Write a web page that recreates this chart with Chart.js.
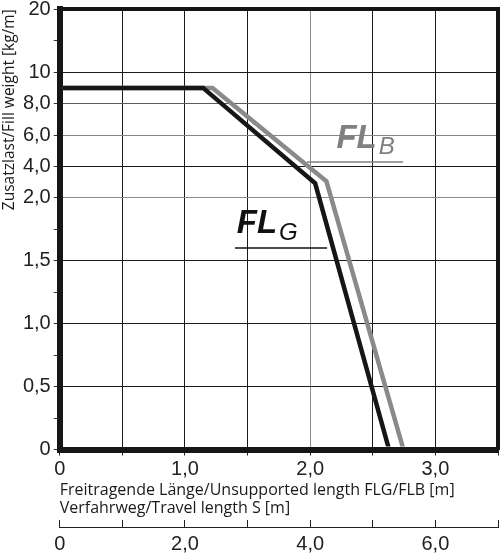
<!DOCTYPE html>
<html>
<head>
<meta charset="utf-8">
<script src="https://cdn.jsdelivr.net/npm/chart.js@4/dist/chart.umd.min.js"></script>
<style>
html,body{margin:0;padding:0;background:#fff;overflow:hidden}
#wrap{position:relative;width:500px;height:559px}
</style>
</head>
<body>
<div id="wrap"><canvas id="c" width="500" height="559"></canvas></div>
<script>
// ---- data ----
const seriesNames = ['FLG', 'FLB'];
const flgX = [0, 1.145, 2.04, 2.63];
const flgY = [9.0, 9.0, 2.93, 0];
const flbX = [0, 1.22, 2.13, 2.745];
const flbY = [9.0, 9.0, 3.06, 0];

// y axis (piecewise scale: 0..2 stretched, 2..10 compressed, 10..20)
const yBreakValues = [0, 2, 10, 20];
const yBreakUnits  = [0, 4, 6, 7];
const yTickValues = [0, 0.25, 0.5, 0.75, 1, 1.25, 1.5, 1.75, 2, 4, 6, 8, 10, 15, 20];
const yTickLabels = ['0', '', '0,5', '', '1,0', '', '1,5', '', '2,0', '4,0', '6,0', '8,0', '10', '', '20'];

// x axis: unsupported length (m)
const xTickValues = [0, 0.5, 1, 1.5, 2, 2.5, 3, 3.5];
const xTickLabels = ['0', '', '1,0', '', '2,0', '', '3,0', ''];

// second x axis: travel length S (m)
const sTickValues = [0, 1, 2, 3, 4, 5, 6, 7];
const sTickLabels = ['0', '', '2,0', '', '4,0', '', '6,0', ''];

const yTitle = 'Zusatzlast/Fill weight [kg/m]';
const xTitle = ['Freitragende Länge/Unsupported length FLG/FLB [m]', 'Verfahrweg/Travel length S [m]'];

// ---- piecewise linear scale ----
const UNIT_TOTAL = yBreakUnits[yBreakUnits.length - 1];
function toUnit(v) {
  for (let i = 1; i < yBreakValues.length; i++) {
    if (v <= yBreakValues[i] || i === yBreakValues.length - 1) {
      const a = yBreakValues[i - 1], b = yBreakValues[i];
      return yBreakUnits[i - 1] + (v - a) / (b - a) * (yBreakUnits[i] - yBreakUnits[i - 1]);
    }
  }
  return 0;
}
function fromUnit(u) {
  for (let i = 1; i < yBreakUnits.length; i++) {
    if (u <= yBreakUnits[i] || i === yBreakUnits.length - 1) {
      const a = yBreakUnits[i - 1], b = yBreakUnits[i];
      return yBreakValues[i - 1] + (u - a) / (b - a) * (yBreakValues[i] - yBreakValues[i - 1]);
    }
  }
  return 0;
}
const BaseLinear = Chart.LinearScale || Chart.registry.getScale('linear');
class SegmentScale extends BaseLinear {
  buildTicks() { return yTickValues.map(v => ({ value: v })); }
  getPixelForValue(v) { return this.getPixelForDecimal(toUnit(v) / UNIT_TOTAL); }
  getValueForPixel(p) { return fromUnit(this.getDecimalForPixel(p) * UNIT_TOTAL); }
}
SegmentScale.id = 'segment';
SegmentScale.defaults = BaseLinear.defaults;
Chart.register(SegmentScale);

// ---- styling helpers ----
const TICK_FONT = { family: '"Liberation Sans", Arial, sans-serif', size: 20 };
const TITLE_FONT = { family: '"Open Sans", "Noto Sans", sans-serif', size: 16, lineHeight: 1.16 };
const Y_GRID = { 0: '#111', 0.5: '#1a1a1a', 1: '#1a1a1a', 1.5: '#1a1a1a', 2: '#8c8c8c', 4: '#1a1a1a', 6: '#858585', 8: '#5c5c5c', 10: '#1a1a1a', 20: '#111' };
function yGridColor(ctx) {
  const v = ctx.tick ? ctx.tick.value : null;
  return (v !== null && v in Y_GRID) ? Y_GRID[v] : 'rgba(0,0,0,0)';
}
function xGridColor(ctx) {
  const v = ctx.tick ? ctx.tick.value : null;
  return v === 2 ? '#8c8c8c' : '#1a1a1a';
}
function noPad(s) { s.paddingLeft = 0; s.paddingRight = 0; s.paddingTop = 0; s.paddingBottom = 0; }

// ---- series labels (FL_B / FL_G) ----
const seriesLabelPlugin = {
  id: 'seriesLabels',
  afterDatasetsDraw(chart) {
    const ctx = chart.ctx, xs = chart.scales.x, ys = chart.scales.y;
    const items = [
      { name: seriesNames[1], color: '#808080', x: 2.21, y: 5.18, ux0: 1.975, ux1: 2.742, uy: 4.29 },
      { name: seriesNames[0], color: '#111111', x: 1.414, y: 1.719, ux0: 1.40, ux1: 2.135, uy: 1.602 }
    ];
    ctx.save();
    items.forEach(it => {
      const px = xs.getPixelForValue(it.x), py = ys.getPixelForValue(it.y);
      const main = it.name.slice(0, 2), sub = it.name.slice(2);
      ctx.fillStyle = it.color;
      ctx.textBaseline = 'alphabetic';
      ctx.textAlign = 'left';
      ctx.font = 'italic bold 33px "Liberation Sans", Arial, sans-serif';
      ctx.fillText(main, px, py);
      const w = ctx.measureText(main).width;
      ctx.font = 'italic 24px "Liberation Sans", Arial, sans-serif';
      ctx.fillText(sub, px + w + 2, py + 6.5);
      ctx.strokeStyle = it.color;
      ctx.lineWidth = 1.6;
      const uy = ys.getPixelForValue(it.uy);
      ctx.beginPath();
      ctx.moveTo(xs.getPixelForValue(it.ux0), uy);
      ctx.lineTo(xs.getPixelForValue(it.ux1), uy);
      ctx.stroke();
    });
    ctx.restore();
  }
};

const clipInside = { left: -3, right: 0, top: 0, bottom: -3 };

new Chart(document.getElementById('c'), {
  type: 'line',
  data: {
    datasets: [
      {
        label: seriesNames[0],
        data: flgX.map((x, i) => ({ x, y: flgY[i] })),
        borderColor: '#161616', borderWidth: 4.5, pointRadius: 0,
        tension: 0, fill: false, borderJoinStyle: 'miter', clip: clipInside
      },
      {
        label: seriesNames[1],
        data: flbX.map((x, i) => ({ x, y: flbY[i] })),
        borderColor: '#8a8a8a', borderWidth: 4.5, pointRadius: 0,
        tension: 0, fill: false, borderJoinStyle: 'miter', clip: clipInside
      }
    ]
  },
  options: {
    responsive: false,
    animation: false,
    events: [],
    layout: { padding: { top: 9.3, right: 2, left: 0, bottom: 0 } },
    plugins: { legend: { display: false }, tooltip: { enabled: false } },
    scales: {
      x: {
        type: 'linear', position: 'bottom', min: 0, max: 3.5,
        afterBuildTicks: s => { s.ticks = xTickValues.map(v => ({ value: v })); },
        afterFit: s => { s.height = 77.5; noPad(s); },
        ticks: {
          autoSkip: false, maxRotation: 0, padding: 1.5, color: '#222', font: TICK_FONT,
          callback: (v) => { const i = xTickValues.indexOf(v); return i >= 0 ? xTickLabels[i] : ''; }
        },
        grid: { color: xGridColor, lineWidth: 1, tickLength: 6, tickColor: '#222', tickWidth: 1 },
        border: { display: true, width: 6, color: '#161616' },
        title: { display: true, text: xTitle, align: 'start', color: '#1a1a1a', font: TITLE_FONT, padding: { top: 0, bottom: 9 } }
      },
      xS: {
        type: 'linear', position: 'bottom', min: 0, max: 7,
        afterBuildTicks: s => { s.ticks = sTickValues.map(v => ({ value: v })); },
        afterFit: s => { s.height = 32; noPad(s); },
        ticks: {
          autoSkip: false, maxRotation: 0, padding: 12, color: '#222', font: TICK_FONT,
          callback: (v) => { const i = sTickValues.indexOf(v); return i >= 0 ? sTickLabels[i] : ''; }
        },
        grid: { drawOnChartArea: false, tickLength: -7, tickColor: '#222', tickWidth: 1 },
        border: { display: true, width: 1, color: '#222' }
      },
      xTop: {
        type: 'linear', position: 'top', min: 0, max: 3.5,
        afterFit: s => { s.height = 0; noPad(s); },
        ticks: { display: false },
        grid: { display: false, drawTicks: false, drawOnChartArea: false },
        border: { display: true, width: 4, color: '#161616' }
      },
      y: {
        type: 'segment', position: 'left', min: 0, max: 20,
        afterFit: s => { s.width = 59.7; noPad(s); },
        ticks: {
          autoSkip: false, padding: 3, color: '#222', font: TICK_FONT,
          callback: (v) => { const i = yTickValues.indexOf(v); return i >= 0 ? yTickLabels[i] : ''; }
        },
        grid: { color: yGridColor, lineWidth: 1, tickLength: 6, tickColor: '#333', tickWidth: 1 },
        border: { display: true, width: 6, color: '#161616' },
        title: { display: true, text: yTitle, align: 'end', color: '#1a1a1a', font: { family: '"Open Sans", "Noto Sans", sans-serif', size: 15.5 }, padding: { top: 0, bottom: 0 } }
      },
      yRight: {
        type: 'linear', position: 'right', min: 0, max: 1,
        afterFit: s => { s.width = 0; noPad(s); },
        ticks: { display: false },
        grid: { display: false, drawTicks: false, drawOnChartArea: false },
        border: { display: true, width: 4, color: '#161616' }
      }
    }
  },
  plugins: [seriesLabelPlugin]
});
</script>
</body>
</html>
